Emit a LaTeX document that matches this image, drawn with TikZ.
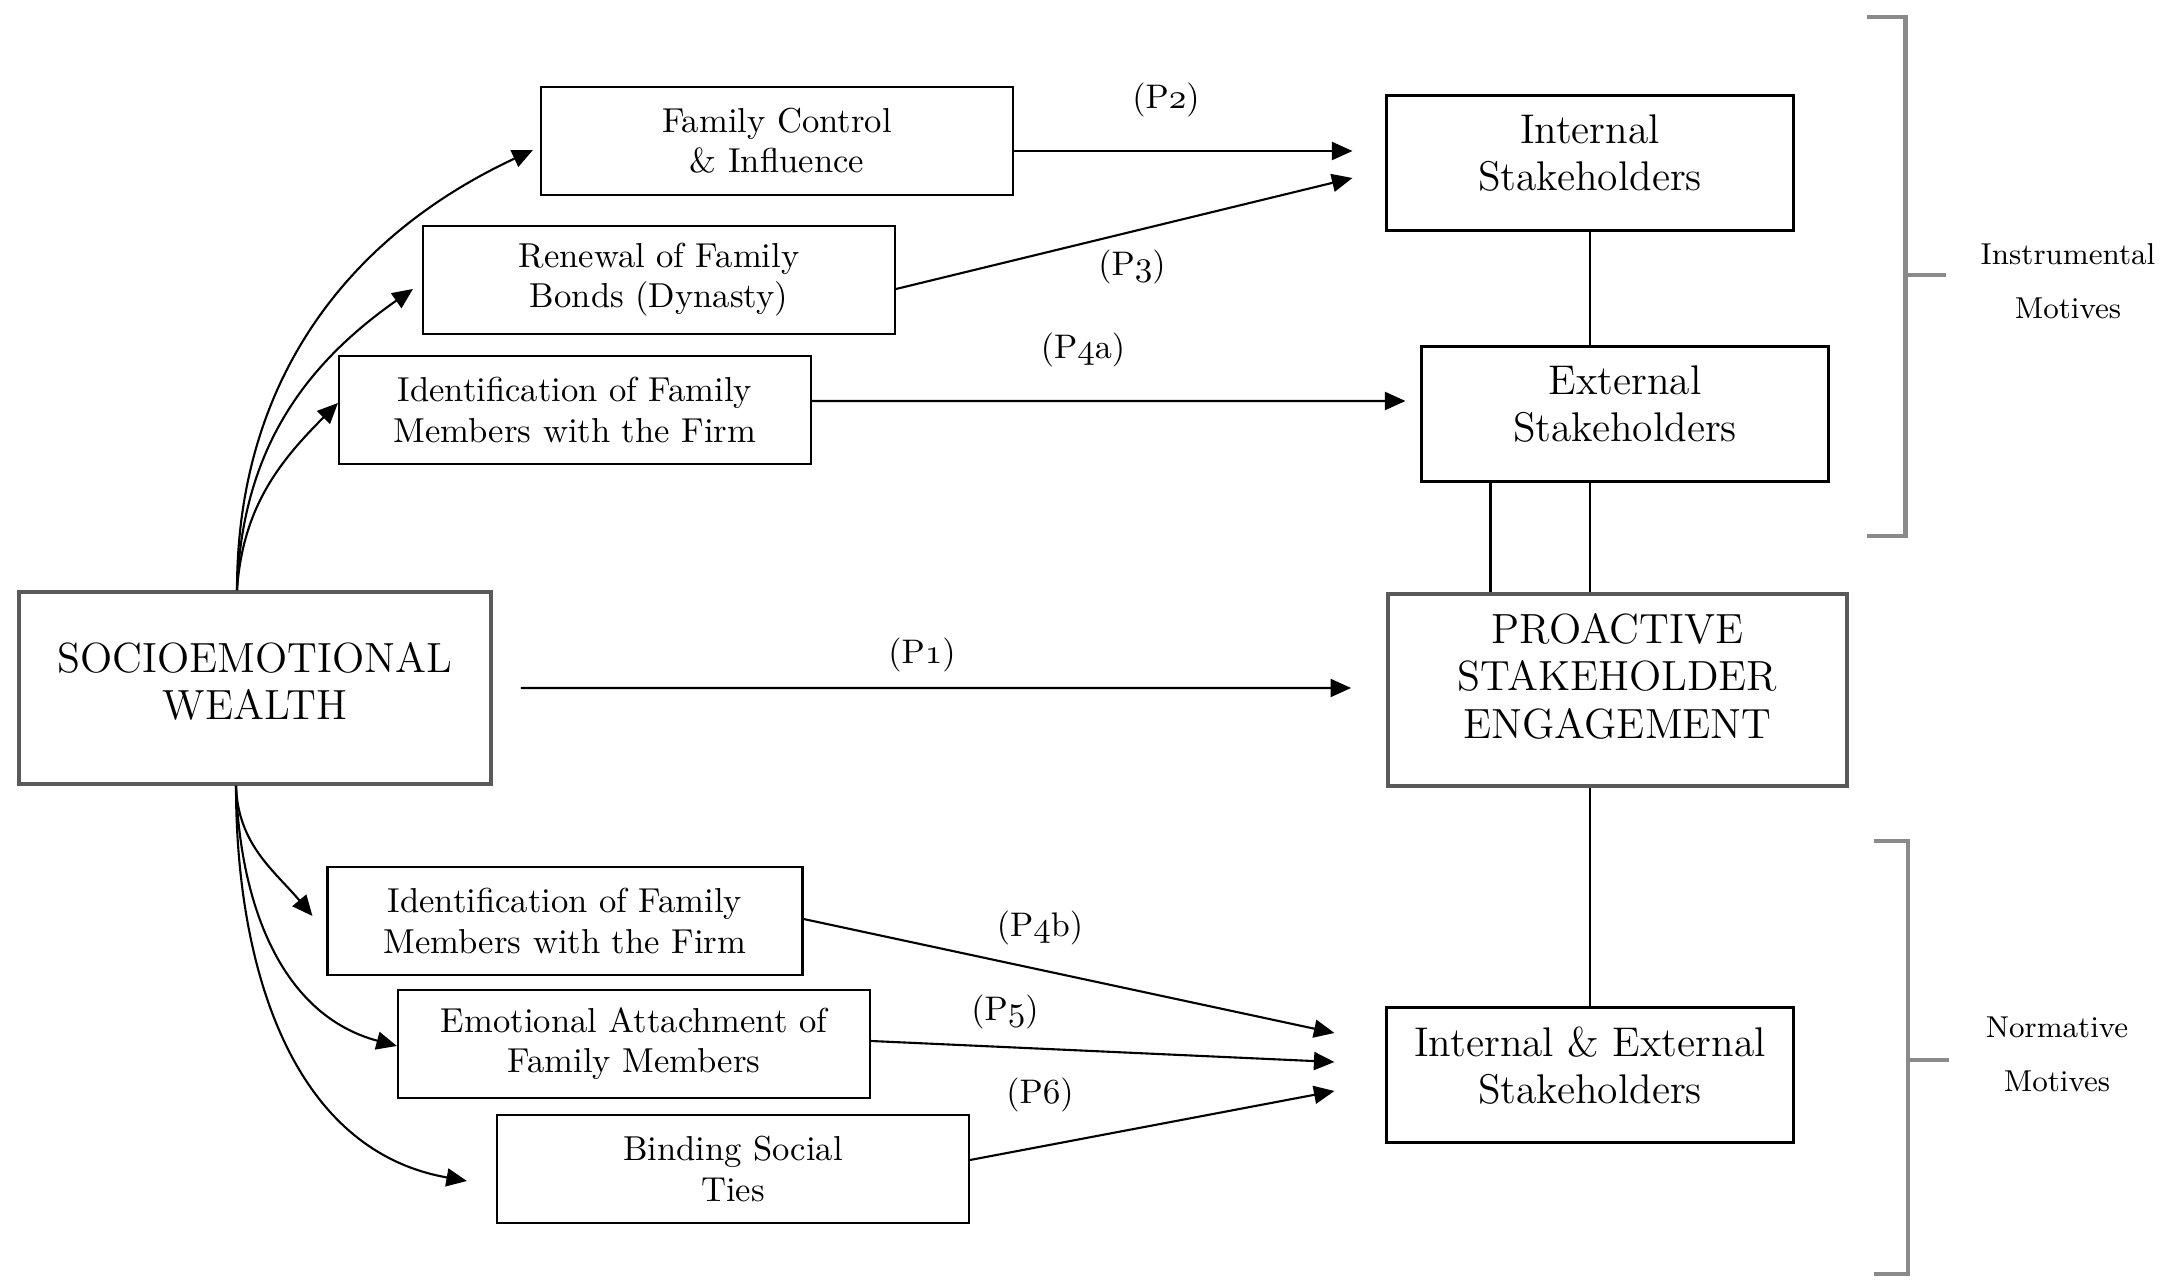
\documentclass[tikz,border=0pt]{standalone}
\usepackage{fontspec}
\usetikzlibrary{arrows.meta,calc}
\definecolor{brkgray}{RGB}{138,138,138}
\definecolor{boxgray}{RGB}{90,90,90}
\newcommand\osnum[1]{{\fontencoding{OML}\fontfamily{cmm}\fontseries{m}\fontshape{it}\selectfont #1}}

\begin{document}
\begin{tikzpicture}[
    box/.style={draw,minimum width=4.72cm,minimum height=1.08cm,align=center,line width=0.6pt,font=\fontsize{9.85}{11.4}\selectfont},
    sbox/.style={draw,minimum width=4.07cm,minimum height=1.35cm,align=center,line width=0.6pt,text depth=5.7pt,font=\fontsize{11.8}{13.4}\selectfont},
    bigbox/.style={draw=boxgray,line width=1.1pt,minimum height=1.92cm,align=center,font=\fontsize{12}{13.4}\selectfont},
    lbl/.style={font=\fontsize{9.7}{11}\selectfont,inner sep=0pt},
    note/.style={align=center,font=\fontsize{8.6}{15.4}\selectfont},
    brk/.style={draw=brkgray,line width=1.2pt},
    >={Triangle[length=2.05mm,width=1.8mm]}
]
\useasboundingbox (0,0) rectangle (21.76,-12.80);

% sources
\node[box] (fam) at (7.77,-1.41) {Family Control\\\& Influence};
\node[box] (ren) at (6.59,-2.80) {Renewal of Family\\Bonds (Dynasty)};
\node[box] (idt) at (5.75,-4.10) {Identification of Family\\Members with the Firm};
\node[bigbox,minimum width=4.72cm,text depth=4pt] (sew) at (2.55,-6.88) {SOCIOEMOTIONAL\\WEALTH};
\node[box,minimum width=4.75cm] (idb) at (5.65,-9.21) {Identification of Family\\Members with the Firm};
\node[box] (emo) at (6.34,-10.44) {Emotional Attachment of\\Family Members};
\node[box] (bst) at (7.33,-11.69) {Binding Social\\Ties};

% stakeholders
\node[sbox] (int) at (15.90,-1.63) {Internal\\Stakeholders};
\node[sbox] (ext) at (16.25,-4.14) {External\\Stakeholders};
\node[bigbox,minimum width=4.59cm,text depth=8pt] (pse) at (16.175,-6.90) {PROACTIVE\\STAKEHOLDER\\ENGAGEMENT};
\node[sbox] (ie) at (15.90,-10.75) {Internal \& External\\Stakeholders};

% SEW to dimensions
\draw[->,line width=0.6pt] ([xshift=-0.18cm]sew.north) to[out=90,in=205] ([xshift=-0.07cm,yshift=-0.09cm]fam.west);
\draw[->,line width=0.6pt] ([xshift=-0.18cm]sew.north) to[out=88,in=215] ([xshift=-0.09cm,yshift=-0.09cm]ren.west);
\draw[->,line width=0.6pt] ([xshift=-0.18cm]sew.north) to[out=86,in=225] ([yshift=0.07cm]idt.west);
\draw[->,line width=0.6pt] ([xshift=-0.19cm]sew.south) to[out=-88,in=130] ([xshift=-0.14cm,yshift=0.05cm]idb.west);
\draw[->,line width=0.6pt] ([xshift=-0.19cm]sew.south) to[out=-88,in=165] ([yshift=-0.02cm]emo.west);
\draw[->,line width=0.6pt] ([xshift=-0.19cm]sew.south) to[out=-90,in=170] ([xshift=-0.29cm,yshift=-0.12cm]bst.west);

% propositions
\draw[->,line width=0.6pt] ([yshift=-0.10cm]fam.east) -- ([xshift=-0.33cm,yshift=0.12cm]int.west);
\draw[->,line width=0.6pt] ([yshift=-0.09cm]ren.east) -- ([xshift=-0.33cm,yshift=-0.15cm]int.west);
\draw[->,line width=0.6pt] ([yshift=0.09cm]idt.east) -- ([xshift=-0.15cm,yshift=0.13cm]ext.west);
\draw[->,line width=0.6pt] ([xshift=0.28cm]sew.east) -- ([xshift=-0.35cm,yshift=0.02cm]pse.west);
\draw[->,line width=0.6pt] ([yshift=0.02cm]idb.east) -- ([xshift=-0.51cm,yshift=0.42cm]ie.west);
\draw[->,line width=0.6pt] ([yshift=0.03cm]emo.east) -- ([xshift=-0.51cm,yshift=0.13cm]ie.west);
\draw[->,line width=0.6pt] ([yshift=0.09cm]bst.east) -- ([xshift=-0.51cm,yshift=-0.16cm]ie.west);

\node[lbl] (lp2) at (11.66,-1.00) {(P\osnum{2})};
\node[lbl] (lp3) at (11.32,-2.67) {(P\osnum{3})};
\node[lbl] (lp4a) at (10.83,-3.50) {(P\osnum{4}a)};
\node[lbl] (lp1) at (9.22,-6.55) {(P\osnum{1})};
\node[lbl] (lp4b) at (10.40,-9.28) {(P\osnum{4}b)};
\node[lbl] (lp5) at (10.05,-10.12) {(P\osnum{5})};
\node[lbl] (lp6) at (10.40,-10.95) {(P\osnum{6})};

% links between stakeholder boxes
\draw[line width=0.6pt] (int.south) -- (int.south |- ext.north);
\draw[line width=0.6pt] (ext.south -| 14.905,0) -- (pse.north -| 14.905,0);
\draw[line width=0.6pt] (ext.south -| int.south) -- (pse.north -| int.south);
\draw[line width=0.6pt] (pse.south -| ie.north) -- (ie.north);

% brackets
\draw[brk] (18.67,-0.17) -- (19.055,-0.17) -- (19.055,-5.36) -- (18.67,-5.36);
\draw[brk] (19.055,-2.75) -- (19.46,-2.75);
\draw[brk] (18.735,-8.41) -- (19.08,-8.41) -- (19.08,-12.74) -- (18.735,-12.74);
\draw[brk] (19.08,-10.60) -- (19.485,-10.60);
\node[note] (ins) at (20.68,-2.81) {Instrumental\\Motives};
\node[note] (nor) at (20.57,-10.54) {Normative\\Motives};
\end{tikzpicture}
\end{document}
